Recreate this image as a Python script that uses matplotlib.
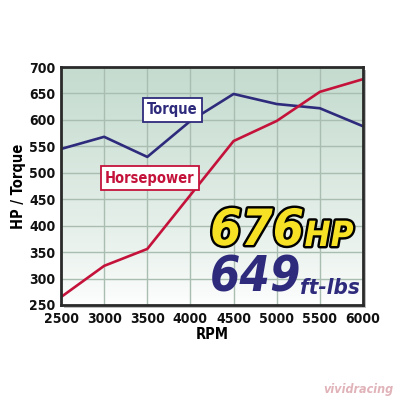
import numpy as np
import matplotlib
matplotlib.use("Agg")
import matplotlib.pyplot as plt
import matplotlib.patheffects as pe
from matplotlib.patches import Rectangle

# dyno data
rpm = [2500, 3000, 3500, 4000, 4500, 5000, 5500, 6000]
torque = [545, 568, 530, 598, 649, 630, 622, 588]
horsepower = [265, 324, 356, 458, 560, 598, 653, 677]
yticks = [250, 300, 350, 400, 450, 500, 550, 600, 650, 700]

navy = "#2e2a7c"
crimson = "#c4123a"
cond = dict(fontfamily="DejaVu Sans", fontstretch="condensed", fontweight="bold")

fig = plt.figure(figsize=(4, 4), dpi=100)
fig.patch.set_facecolor("white")
ax = fig.add_axes([61 / 400, 95 / 400, 302 / 400, 238 / 400])
ax.set_zorder(2)

# drop shadow behind the plot frame
shadow = Rectangle((64 / 400, 92 / 400), 302 / 400, 238 / 400,
                   transform=fig.transFigure, facecolor="#bdbdbd",
                   edgecolor="none", zorder=1)
fig.patches.append(shadow)

# green-to-white background gradient
grad = np.linspace(1, 0, 256)
top = np.array([0.77, 0.86, 0.81])
bot = np.array([1.0, 1.0, 1.0])
img = bot + (top - bot) * grad[:, None] ** 0.75
ax.imshow(img.reshape(256, 1, 3), extent=[2500, 6000, 250, 700],
          aspect="auto", zorder=0, origin="upper")

ax.set_xlim(2500, 6000)
ax.set_ylim(250, 700)
ax.set_xticks(rpm)
ax.set_yticks(yticks)
ax.grid(True, color="#a9bdb1", linewidth=1.0, zorder=1)
ax.tick_params(length=0)
ax.tick_params(axis="x", pad=5)
ax.tick_params(axis="y", pad=4)
for lab in ax.get_xticklabels() + ax.get_yticklabels():
    lab.set_fontfamily("DejaVu Sans")
    lab.set_fontstretch("condensed")
    lab.set_fontweight("heavy")
    lab.set_fontsize(10)
    lab.set_color("#111111")
for s in ax.spines.values():
    s.set_linewidth(2)
    s.set_color("#2a2a2a")
    s.set_zorder(5)

ax.plot(rpm, torque, color=navy, linewidth=1.9, zorder=3)
ax.plot(rpm, horsepower, color=crimson, linewidth=1.9, zorder=3)

ax.set_xlabel("RPM", fontsize=10.5, labelpad=1, **cond)
ax.set_ylabel("HP / Torque", fontsize=10.5, labelpad=2, **cond)

ax.text(3790, 619, "Torque", color=navy, fontsize=10.5, ha="center",
        va="center", zorder=4, **cond,
        bbox=dict(boxstyle="square,pad=0.3", facecolor="white",
                  edgecolor=navy, linewidth=1.3))
ax.text(3530, 490, "Horsepower", color=crimson, fontsize=10.5, ha="center",
        va="center", zorder=4, **cond,
        bbox=dict(boxstyle="square,pad=0.3", facecolor="white",
                  edgecolor=crimson, linewidth=1.3))

outline = [pe.withStroke(linewidth=3.5, foreground="black")]
fig.text(257 / 400, 1 - 231 / 400, "676", color="#f7e125", fontsize=36,
         style="italic", ha="center", va="center", path_effects=outline,
         zorder=6, **cond)
fig.text(329 / 400, 1 - 236 / 400, "HP", color="#f7e125", fontsize=25,
         style="italic", ha="center", va="center", path_effects=outline,
         zorder=6, **cond)
fig.text(256 / 400, 1 - 278 / 400, "649", color=navy, fontsize=35,
         style="italic", ha="center", va="center", zorder=6, **cond)
fig.text(330 / 400, 1 - 288 / 400, "ft-lbs", color=navy, fontsize=16,
         style="italic", ha="center", va="center", zorder=6, **cond)

# faint watermark
fig.text(358 / 400, 1 - 390 / 400, "vividracing", color="#d9a0a8",
         fontsize=9, style="italic", ha="center", va="center", alpha=0.8,
         **cond)

fig.savefig("out.png", dpi=100)
